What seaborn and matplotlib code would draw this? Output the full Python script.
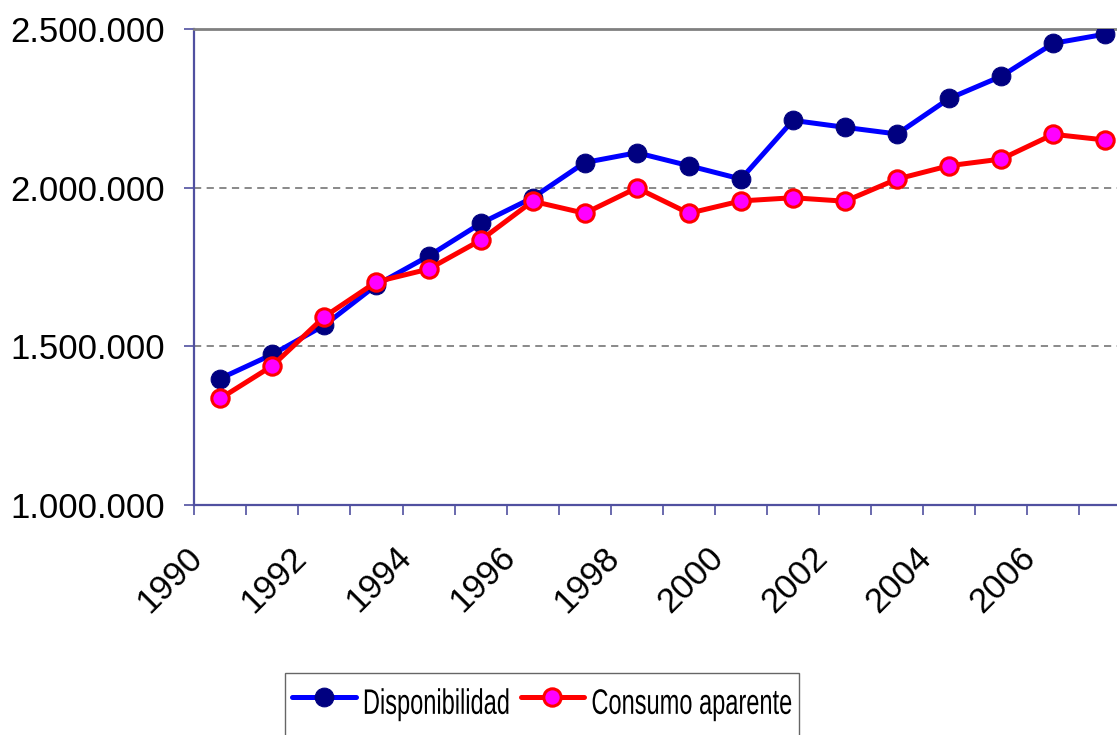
import matplotlib
matplotlib.use('Agg')
import matplotlib.pyplot as plt
import matplotlib.transforms as mtransforms
import matplotlib.patheffects as path_effects
from matplotlib.ticker import FixedLocator
import seaborn as sns
import pandas as pd

# Data
years = list(range(1990, 2008))
disponibilidad = [1398000, 1474000, 1566000, 1693000, 1784000, 1887000,
                  1968000, 2079000, 2110000, 2069000, 2027000, 2212000,
                  2190000, 2169000, 2281000, 2351000, 2455000, 2484000]
consumo = [1335000, 1438000, 1593000, 1703000, 1743000, 1834000,
           1957000, 1919000, 1999000, 1919000, 1958000, 1968000,
           1957000, 2027000, 2069000, 2090000, 2168000, 2150000]
series_names = ['Disponibilidad', 'Consumo aparente']
y_ticks = [1000000, 1500000, 2000000, 2500000]
x_label_years = list(range(1990, 2008, 2))


class StretchY(path_effects.AbstractPathEffect):
    """Draw text taller than wide (the legend font in the original is condensed)."""

    def __init__(self, sy):
        super().__init__()
        self.sy = sy

    def draw_path(self, renderer, gc, tpath, affine, rgbFace=None):
        renderer.draw_path(gc, tpath, mtransforms.Affine2D().scale(1, self.sy) + affine, rgbFace)


df = pd.DataFrame({'year': years,
                   series_names[0]: disponibilidad,
                   series_names[1]: consumo})

sns.set_style('white')
plt.rcParams['font.family'] = ['Liberation Sans', 'DejaVu Sans']
plt.rcParams['text.color'] = 'black'
plt.rcParams['xtick.labelcolor'] = 'black'
plt.rcParams['ytick.labelcolor'] = 'black'

fig = plt.figure(figsize=(11.17, 7.35), dpi=100)
ax = fig.add_axes([0.1739, 0.3133, 0.839, 0.6472])

axis_col = '#5050a0'

sns.lineplot(data=df, x='year', y=series_names[0], ax=ax, color='#0000ff',
             linewidth=3.6, marker='o', markersize=13.5,
             markerfacecolor='#000080', markeredgecolor='#000080',
             label=series_names[0], legend=False, zorder=3)
sns.lineplot(data=df, x='year', y=series_names[1], ax=ax, color='#ff0000',
             linewidth=3.6, marker='o', markersize=12.5,
             markerfacecolor='#ff00ff', markeredgecolor='#ff0000',
             markeredgewidth=2.2, label=series_names[1], legend=False, zorder=4)

ax.set_xlim(years[0] - 0.5, years[-1] + 0.5)
ax.set_ylim(y_ticks[0], y_ticks[-1])
ax.set_xlabel('')
ax.set_ylabel('')

# y axis
ax.set_yticks(y_ticks)
ax.set_yticklabels([f'{v:,.0f}'.replace(',', '.') for v in y_ticks])
ax.tick_params(axis='y', which='major', direction='out', length=7,
               width=1.2, color=axis_col, pad=14, labelsize=25, left=True)

# x axis: tick marks at category boundaries, labels at centres
ax.xaxis.set_major_locator(FixedLocator(x_label_years))
ax.xaxis.set_minor_locator(FixedLocator([y - 0.5 for y in years] + [years[-1] + 0.5]))
ax.set_xticklabels([str(y) for y in x_label_years])
ax.tick_params(axis='x', which='major', length=0, pad=39, labelsize=25)
ax.tick_params(axis='x', which='minor', direction='out', length=7,
               width=1.2, color=axis_col, bottom=True)
shift = mtransforms.ScaledTranslation(-16 / 100, 0, fig.dpi_scale_trans)
for lab in ax.get_xticklabels():
    lab.set_rotation(45)
    lab.set_ha('right')
    lab.set_va('baseline')
    lab.set_rotation_mode('anchor')
    lab.set_transform(lab.get_transform() + shift)

# grid and frame
for v in y_ticks[1:-1]:
    ax.axhline(v, color='#808080', linestyle=(0, (4, 3)), linewidth=1.3, zorder=1)
ax.spines['top'].set_color('#808080')
ax.spines['top'].set_linewidth(2)
ax.spines['right'].set_visible(False)
for side in ['left', 'bottom']:
    ax.spines[side].set_color(axis_col)
    ax.spines[side].set_linewidth(1.6)

handles, labels = ax.get_legend_handles_labels()
leg = fig.legend(handles, labels, loc='center left',
                 bbox_to_anchor=(285 / 1117, 1 - 707 / 735), ncol=2,
                 frameon=True, fancybox=False, borderpad=0.3, borderaxespad=0,
                 handlelength=2.7, handleheight=3.1, handletextpad=0.3,
                 columnspacing=0.42, prop={'size': 17})
leg.get_frame().set_edgecolor('#404040')
leg.get_frame().set_linewidth(1)
for t in leg.get_texts():
    t.set_path_effects([StretchY(1.5)])

fig.savefig('out.png', dpi=100)
